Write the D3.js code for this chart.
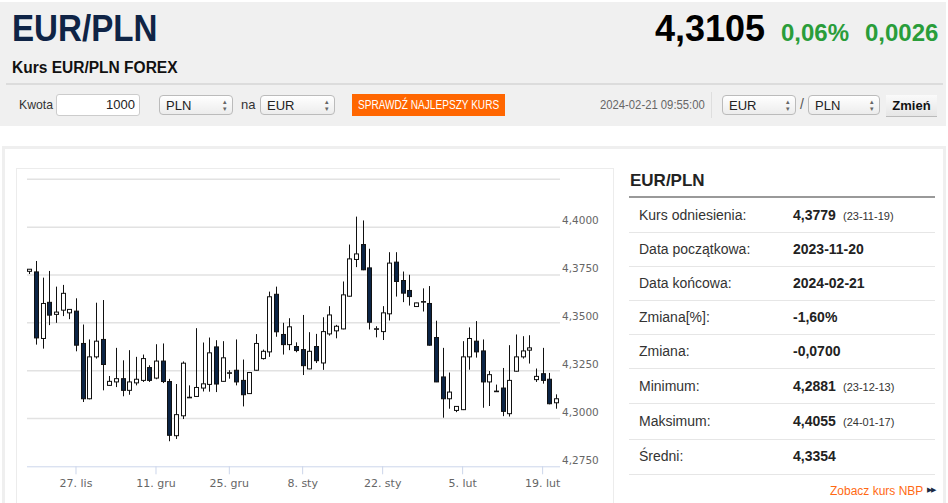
<!DOCTYPE html>
<html lang="pl">
<head>
<meta charset="utf-8">
<title>EUR/PLN</title>
<script src="https://cdn.jsdelivr.net/npm/d3@7.9.0/dist/d3.min.js"></script>
<style>
  body { margin: 0; width: 948px; height: 503px; overflow: hidden; background: #fff;
         font-family: "Liberation Sans", Arial, sans-serif; color: #333; position: relative; }
  .abs { position: absolute; white-space: nowrap; }
  .narrow { font-family: "Liberation Sans Narrow", "Arial Narrow", "Liberation Sans", sans-serif; }
  #header { left: 0; top: 2px; width: 946px; height: 124px; background: #f0f0f0; }
  .sel { height: 20px; border: 1px solid #bbb; border-radius: 4px; background: linear-gradient(#fff, #ececec);
         font-size: 13px; line-height: 20px; padding-left: 6px; box-sizing: border-box; color: #222; }
  .sel::after { content: "\25B4\A\25BE"; white-space: pre; position: absolute; right: 5px; top: 2px;
                font-size: 7px; line-height: 7px; color: #666; }
  .row-l { left: 639px; font-size: 14px; color: #333; }
  .row-v { left: 793px; font-size: 14px; font-weight: bold; color: #222; }
  .row-d { left: 843px; font-size: 11px; color: #333; }
  svg { position: absolute; left: 0; top: 0; }
</style>
</head>
<body>
<div id="header" class="abs"></div>
<div class="abs narrow" style="left:12px;top:8px;font-size:36px;font-weight:bold;color:#0f2446;transform:scaleX(0.92);transform-origin:0 0;">EUR/PLN</div>
<div class="abs narrow" style="left:12px;top:59px;font-size:16px;font-weight:bold;color:#111;transform:scaleX(0.97);transform-origin:0 0;">Kurs EUR/PLN FOREX</div>
<div class="abs narrow" style="right:183px;top:8px;font-size:36px;font-weight:bold;color:#000;">4,3105</div>
<div class="abs narrow" style="left:781px;top:19px;font-size:24px;font-weight:bold;color:#2a9d3a;">0,06%</div>
<div class="abs narrow" style="left:865px;top:19px;font-size:24px;font-weight:bold;color:#2a9d3a;">0,0026</div>
<div class="abs" style="left:6px;top:83px;width:937px;height:2px;background:#dcdcdc;"></div>

<div class="abs narrow" style="left:19px;top:97px;font-size:13px;color:#333;transform:scaleX(0.94);transform-origin:0 0;">Kwota</div>
<div class="abs" style="left:56px;top:94px;width:84px;height:22px;background:#fff;border:1px solid #ccc;border-radius:3px;box-sizing:border-box;"></div>
<div class="abs narrow" style="right:813px;top:97px;font-size:13px;color:#222;">1000</div>
<div class="abs sel narrow" style="left:159px;top:95px;width:74px;">PLN</div>
<div class="abs narrow" style="left:241px;top:97px;font-size:13px;color:#333;">na</div>
<div class="abs sel narrow" style="left:260px;top:95px;width:75px;">EUR</div>
<div class="abs" style="left:352px;top:94px;width:153px;height:22px;background:#ff6600;"></div>
<div class="abs narrow" style="left:358px;top:98px;font-size:12px;color:#fff;transform:scaleX(0.84);transform-origin:0 0;">SPRAWDŹ NAJLEPSZY KURS</div>
<div class="abs narrow" style="left:600px;top:98px;font-size:12px;color:#666;transform:scaleX(0.94);transform-origin:0 0;">2024-02-21 09:55:00</div>
<div class="abs" style="left:711px;top:92px;width:1px;height:26px;background:#dedede;"></div>
<div class="abs sel narrow" style="left:722px;top:95px;width:74px;">EUR</div>
<div class="abs narrow" style="left:800px;top:96px;font-size:14px;color:#555;">/</div>
<div class="abs sel narrow" style="left:808px;top:95px;width:72px;">PLN</div>
<div class="abs narrow" style="left:886px;top:95px;width:51px;height:22px;background:linear-gradient(#fafafa,#e6e6e6);border-bottom:1px solid #bbb;box-sizing:border-box;font-size:13px;font-weight:bold;line-height:22px;text-align:center;color:#111;">Zmień</div>

<div class="abs" style="left:2px;top:146px;width:944px;height:370px;border:3px solid #efefef;box-sizing:border-box;"></div>
<div class="abs" style="left:16px;top:168px;width:598px;height:360px;border:1.5px solid #ececec;box-sizing:border-box;"></div>

<div class="abs" style="left:630px;top:171px;font-size:17px;font-weight:bold;color:#222;">EUR/PLN</div>
<div class="abs" style="left:629px;top:196px;width:306px;height:2px;background:#999;"></div>
<div id="table"></div>
<div class="abs" style="left:830px;top:484px;font-size:12px;color:#ff6a13;">Zobacz kurs NBP</div>
<div class="abs" style="left:927px;top:486px;font-size:7px;letter-spacing:-1px;color:#1a2a44;">&#9654;&#9654;</div>

<svg id="chart" width="948" height="503"></svg>

<script>
// candles: one per trading session (forex, Sunday sessions included)
const dates = [
  '2023-11-19','2023-11-20','2023-11-21','2023-11-22','2023-11-23','2023-11-24',
  '2023-11-26','2023-11-27','2023-11-28','2023-11-29','2023-11-30','2023-12-01',
  '2023-12-03','2023-12-04','2023-12-05','2023-12-06','2023-12-07','2023-12-08',
  '2023-12-10','2023-12-11','2023-12-12','2023-12-13','2023-12-14','2023-12-15',
  '2023-12-17','2023-12-18','2023-12-19','2023-12-20','2023-12-21','2023-12-22',
  '2023-12-25','2023-12-26','2023-12-27','2023-12-28','2023-12-29',
  '2023-12-31','2024-01-02','2024-01-03','2024-01-04','2024-01-05',
  '2024-01-07','2024-01-08','2024-01-09','2024-01-10','2024-01-11','2024-01-12',
  '2024-01-14','2024-01-15','2024-01-16','2024-01-17','2024-01-18','2024-01-19',
  '2024-01-21','2024-01-22','2024-01-23','2024-01-24','2024-01-25','2024-01-26',
  '2024-01-28','2024-01-29','2024-01-30','2024-01-31','2024-02-01','2024-02-02',
  '2024-02-04','2024-02-05','2024-02-06','2024-02-07','2024-02-08','2024-02-09',
  '2024-02-11','2024-02-12','2024-02-13','2024-02-14','2024-02-15','2024-02-16',
  '2024-02-18','2024-02-19','2024-02-20','2024-02-21'
];

const open = [
  4.3769, 4.3766, 4.3418, 4.3607, 4.3544, 4.3566, 4.3552, 4.3561, 4.3392, 4.3103,
  4.3322, 4.3413, 4.3173, 4.3191, 4.3208, 4.3147, 4.3186, 4.3199, 4.3266, 4.3211,
  4.3300, 4.3193, 4.2910, 4.3014, 4.3111, 4.3115, 4.3159, 4.3178, 4.3374, 4.3194,
  4.3238, 4.3252, 4.3199, 4.3130, 4.3252, 4.3313, 4.3348, 4.3649, 4.3439, 4.3386,
  4.3376, 4.3360, 4.3259, 4.3376, 4.3290, 4.3442, 4.3458, 4.3468, 4.3639, 4.3831,
  4.3909, 4.3787, 4.3467, 4.3454, 4.3547, 4.3817, 4.3721, 4.3669, 4.3585, 4.3608,
  4.3601, 4.3423, 4.3217, 4.3103, 4.3042, 4.3046, 4.3322, 4.3404, 4.3353, 4.3191,
  4.3143, 4.3159, 4.3025, 4.3247, 4.3322, 4.3357, 4.3203, 4.3234, 4.3205, 4.3082
];
const high = [
  4.3781, 4.3823, 4.3736, 4.3771, 4.3689, 4.3698, 4.3572, 4.3628, 4.3491, 4.3413,
  4.3605, 4.3619, 4.3222, 4.3369, 4.3304, 4.3357, 4.3322, 4.3334, 4.3278, 4.3388,
  4.3392, 4.3207, 4.3180, 4.3298, 4.3173, 4.3472, 4.3397, 4.3423, 4.3409, 4.3404,
  4.3252, 4.3413, 4.3308, 4.3243, 4.3441, 4.3360, 4.3663, 4.3689, 4.3500, 4.3524,
  4.3398, 4.3541, 4.3451, 4.3442, 4.3529, 4.3587, 4.3489, 4.3716, 4.3909, 4.4055,
  4.4035, 4.3887, 4.3482, 4.3587, 4.3869, 4.3869, 4.3768, 4.3751, 4.3605, 4.3680,
  4.3692, 4.3511, 4.3369, 4.3240, 4.3063, 4.3404, 4.3476, 4.3509, 4.3413, 4.3248,
  4.3177, 4.3264, 4.3383, 4.3439, 4.3430, 4.3435, 4.3261, 4.3369, 4.3238, 4.3126
];
const low = [
  4.3755, 4.3386, 4.3365, 4.3488, 4.3500, 4.3535, 4.3519, 4.3351, 4.3086, 4.3100,
  4.3313, 4.3147, 4.3170, 4.3164, 4.3116, 4.3124, 4.3173, 4.3191, 4.3191, 4.3205,
  4.3185, 4.2881, 4.2893, 4.2997, 4.3108, 4.3113, 4.3141, 4.3140, 4.3138, 4.3192,
  4.3208, 4.3173, 4.3063, 4.3128, 4.3250, 4.3308, 4.3322, 4.3427, 4.3334, 4.3357,
  4.3346, 4.3227, 4.3257, 4.3290, 4.3254, 4.3433, 4.3419, 4.3466, 4.3637, 4.3791,
  4.3775, 4.3465, 4.3424, 4.3410, 4.3512, 4.3637, 4.3608, 4.3590, 4.3584, 4.3559,
  4.3381, 4.3190, 4.3004, 4.3051, 4.3033, 4.3044, 4.3255, 4.3318, 4.3056, 4.3065,
  4.3141, 4.3012, 4.3010, 4.3245, 4.3313, 4.3287, 4.3191, 4.3182, 4.3074, 4.3051
];
const close = [
  4.3780, 4.3421, 4.3601, 4.3540, 4.3556, 4.3654, 4.3570, 4.3383, 4.3103, 4.3322,
  4.3404, 4.3282, 4.3194, 4.3208, 4.3147, 4.3191, 4.3205, 4.3313, 4.3199, 4.3300,
  4.3193, 4.2912, 4.3020, 4.3289, 4.3109, 4.3162, 4.3181, 4.3343, 4.3180, 4.3317,
  4.3239, 4.3191, 4.3124, 4.3240, 4.3392, 4.3351, 4.3636, 4.3453, 4.3386, 4.3479,
  4.3355, 4.3276, 4.3351, 4.3302, 4.3454, 4.3541, 4.3482, 4.3646, 4.3834, 4.3860,
  4.3777, 4.3503, 4.3469, 4.3552, 4.3812, 4.3716, 4.3655, 4.3637, 4.3604, 4.3611,
  4.3383, 4.3191, 4.3103, 4.3138, 4.3063, 4.3322, 4.3418, 4.3348, 4.3191, 4.3229,
  4.3142, 4.3037, 4.3199, 4.3322, 4.3353, 4.3369, 4.3220, 4.3199, 4.3077, 4.3103
];

const xTickDates  = ['2023-11-27','2023-12-11','2023-12-25','2024-01-08','2024-01-22','2024-02-05','2024-02-19'];
const xTickLabels = ['27. lis','11. gru','25. gru','8. sty','22. sty','5. lut','19. lut'];
const yGridValues = [4.275, 4.3, 4.325, 4.35, 4.375, 4.4, 4.425];
const yLabelValues = [4.275, 4.3, 4.325, 4.35, 4.375, 4.4];

const tableLabels = ['Kurs odniesienia:', 'Data początkowa:', 'Data końcowa:', 'Zmiana[%]:',
                     'Zmiana:', 'Minimum:', 'Maksimum:', 'Średni:'];
const tableValues = ['4,3779', '2023-11-20', '2024-02-21', '-1,60%', '-0,0700', '4,2881', '4,4055', '4,3354'];
const tableDates  = ['(23-11-19)', '', '', '', '', '(23-12-13)', '(24-01-17)', ''];

// ---- side table ----
const rowTop = [199, 233, 267, 301, 335, 369, 404, 440];
const rowBottom = [233, 267, 301, 335, 369, 404, 440, 474];
const table = d3.select('#table');
tableLabels.forEach((lab, i) => {
  const mid = (rowTop[i] + rowBottom[i]) / 2;
  table.append('div').attr('class', 'abs row-l').style('top', (mid - 9) + 'px').text(lab);
  table.append('div').attr('class', 'abs row-v').style('top', (mid - 9) + 'px').text(tableValues[i]);
  if (tableDates[i]) {
    table.append('div').attr('class', 'abs row-d').style('top', (mid - 6) + 'px').text(tableDates[i]);
  }
  if (i > 0) {
    table.append('div').attr('class', 'abs')
      .style('left', '629px').style('top', (rowTop[i] - 1) + 'px')
      .style('width', '306px').style('height', '1px').style('background', '#e6e6e6');
  }
});
table.append('div').attr('class', 'abs')
  .style('left', '629px').style('top', '474px')
  .style('width', '306px').style('height', '1px').style('background', '#e6e6e6');

// ---- candlestick chart ----
const data = dates.map((d, i) => ({ date: d, o: open[i], h: high[i], l: low[i], c: close[i] }));

const svg = d3.select('#chart');
const x = d3.scaleBand().domain(dates).range([26, 559.3]).padding(0);
const y = d3.scaleLinear().domain([4.275, 4.425]).range([466.3, 179.3]);

const pl = d3.formatLocale({ decimal: ',', thousands: ' ', grouping: [3], currency: ['', ' zł'] });
const fmt = pl.format('.4f');

// grid
svg.append('g')
  .selectAll('line')
  .data(yGridValues.filter(v => v > 4.275))
  .join('line')
  .attr('x1', 27).attr('x2', 560)
  .attr('y1', d => y(d)).attr('y2', d => y(d))
  .attr('stroke', '#e2e2e2')
  .attr('stroke-width', 1.5);

// y labels
const yAxis = svg.append('g')
  .attr('transform', 'translate(560,0)')
  .call(d3.axisRight(y).tickValues(yLabelValues).tickSize(0).tickPadding(2).tickFormat(fmt));
yAxis.select('.domain').remove();
yAxis.selectAll('text')
  .attr('dy', '-0.3em')
  .attr('fill', '#666')
  .style('font-family', '"DejaVu Sans", Verdana, sans-serif')
  .style('font-size', '10.5px');

// x axis
const xAxis = svg.append('g')
  .attr('transform', 'translate(0,466.3)')
  .call(d3.axisBottom(x).tickValues(xTickDates).tickSize(8).tickPadding(5)
    .tickFormat(d => xTickLabels[xTickDates.indexOf(d)]));
xAxis.select('.domain').attr('stroke', '#ccd6eb').attr('d', 'M27,0.5H560');
xAxis.selectAll('.tick line').attr('stroke', '#ccd6eb');
xAxis.selectAll('text')
  .attr('fill', '#666')
  .style('font-family', '"DejaVu Sans", Verdana, sans-serif')
  .style('font-size', '11px');

// candles
const cx = d => Math.round(x(d.date) + x.bandwidth() / 2) + 0.5;
const bodyW = 4;
const candles = svg.append('g').selectAll('g').data(data).join('g');

candles.append('line')
  .attr('x1', cx).attr('x2', cx)
  .attr('y1', d => y(d.h)).attr('y2', d => y(d.l))
  .attr('stroke', '#111')
  .attr('stroke-width', 1);

candles.append('rect')
  .attr('x', d => cx(d) - bodyW / 2)
  .attr('width', bodyW)
  .attr('y', d => y(Math.max(d.o, d.c)))
  .attr('height', d => Math.max(0.6, Math.abs(y(d.o) - y(d.c))))
  .attr('fill', d => (d.c >= d.o ? '#ffffff' : '#0b2445'))
  .attr('stroke', '#111')
  .attr('stroke-width', 1);
</script>
</body>
</html>
